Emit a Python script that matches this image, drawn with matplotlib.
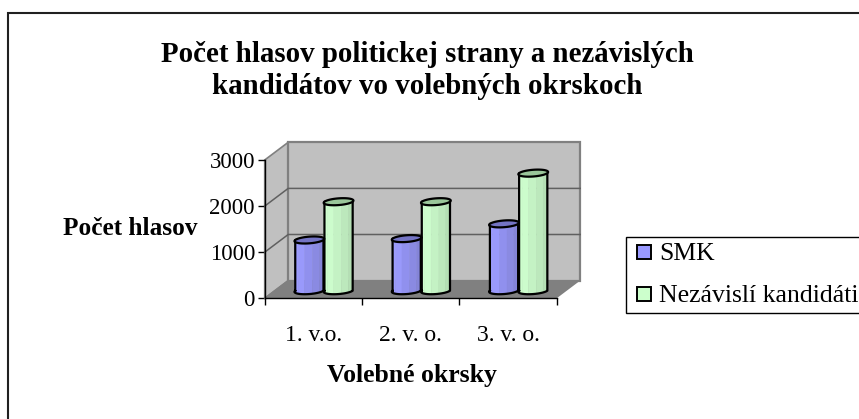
import numpy as np
import matplotlib
matplotlib.use("Agg")
import matplotlib.pyplot as plt
from matplotlib.patches import Polygon, Rectangle

plt.rcParams['font.family'] = ['Liberation Serif', 'DejaVu Serif']

categories = ["1. v.o.", "2. v. o.", "3. v. o."]
series_names = ["SMK", "Nezávislí kandidáti"]
smk = [1100, 1130, 1450]
nezavisli = [1930, 1930, 2550]
y_ticks = [0, 1000, 2000, 3000]

W, H = 859, 419
blue_strips = ["#9090ee", "#9c9cff", "#9999fb", "#9090ee", "#8a8ae2", "#8484d8"]
green_strips = ["#c4f6c4", "#ceffce", "#ccfccc", "#c4f2c4", "#bce8bc", "#b4dfb4"]
blue_top = "#7474c4"
green_top = "#9ac69a"

# depth of the oblique box, in data units (23.5 px right, 17.7 px up)
DX = 23.5 / (292.0 / 3)
DY = 17.7 / (138.3 / 3000)

fig = plt.figure(figsize=(W / 100, H / 100), dpi=100, facecolor="white")
# chart frame, only its left and top edges fall inside the picture
fig.add_artist(Rectangle((8 / W, -10 / H), (W + 10) / W, (H + 10 - 13) / H, transform=fig.transFigure,
                         fill=False, ec="#202020", lw=1.5))

ax = fig.add_axes([264.7 / W, 1 - 298.3 / H, 292.0 / W, 138.3 / H])
ax.set_xlim(0, 3)
ax.set_ylim(0, 3000)
ax.patch.set_visible(False)
for s in ["top", "right"]:
    ax.spines[s].set_visible(False)
for s in ["left", "bottom"]:
    ax.spines[s].set_linewidth(1.0)
    ax.spines[s].set_zorder(6)

# floor and walls
ax.add_patch(Polygon([(0, 0), (3, 0), (3 + DX, DY), (DX, DY)], fc="#808080", ec="none", clip_on=False, zorder=1))
ax.add_patch(Polygon([(0, 0), (DX, DY), (DX, 3000 + DY), (0, 3000)], fc="#c0c0c0", ec="#808080", lw=1.2,
                     clip_on=False, zorder=1))
ax.add_patch(Polygon([(DX, DY), (3 + DX, DY), (3 + DX, 3000 + DY), (DX, 3000 + DY)], fc="#c0c0c0", ec="#808080",
                     lw=1.6, clip_on=False, zorder=1))
for v in y_ticks[1:3]:
    ax.plot([0, DX, 3 + DX], [v, v + DY, v + DY], color="#606060", lw=1.1, clip_on=False, zorder=2)
ax.plot([0, DX], [0, DY], color="#808080", lw=1.0, clip_on=False, zorder=2)


def cylinder(xc, v, strips, top):
    # x half width and depth radius of the round base, base centre sits inside the floor
    r = 0.145
    dr = 0.2
    d0 = 0.43
    t = np.linspace(0, 2 * np.pi, 60)
    ex = r * np.cos(t) + dr * DX * np.sin(t)
    ey = dr * DY * np.sin(t)
    cx = xc + d0 * DX
    cy = d0 * DY
    # side, cut in strips for the shading
    front = np.linspace(np.pi, 2 * np.pi, len(strips) + 1)
    for i, c in enumerate(strips):
        tt = np.linspace(front[i], front[i + 1], 8)
        sx = cx + r * np.cos(tt) + dr * DX * np.sin(tt)
        sy = dr * DY * np.sin(tt)
        pts = list(zip(sx, cy + sy)) + list(zip(sx[::-1], cy + v + sy[::-1]))
        ax.add_patch(Polygon(pts, fc=c, ec=c, lw=0.3, clip_on=False, zorder=4))
    # outline of the side
    tt = np.linspace(np.pi, 2 * np.pi, 40)
    sx = cx + r * np.cos(tt) + dr * DX * np.sin(tt)
    sy = dr * DY * np.sin(tt)
    ox = np.r_[sx, sx[-1], sx[0], sx[0]]
    oy = np.r_[cy + sy, cy + v + sy[-1], cy + v + sy[0], cy + sy[0]]
    ax.plot(ox, oy, color="black", lw=1.6, clip_on=False, zorder=5)
    ax.add_patch(Polygon(list(zip(cx + ex, cy + v + ey)), fc=top, ec="black", lw=1.6, clip_on=False, zorder=5))


for i in range(len(categories)):
    cylinder(i + 0.5 - 0.145, smk[i], blue_strips, blue_top)
    cylinder(i + 0.5 + 0.155, nezavisli[i], green_strips, green_top)

ax.set_yticks(y_ticks)
ax.set_xticks([0, 1, 2, 3])
ax.set_xticklabels([])
ax.set_xticks([0.5, 1.5, 2.5], minor=True)
ax.set_xticklabels(categories, minor=True, fontsize=17)
ax.tick_params(axis="x", which="minor", length=0, pad=19)
ax.tick_params(axis="x", which="major", length=5, width=1.0)
ax.tick_params(axis="y", length=5, width=1.0, labelsize=16.5, pad=2)

fig.text(427 / W, 1 - 54 / H, "Počet hlasov politickej strany a nezávislých", ha="center", va="center",
         fontsize=20.8, fontweight="bold")
fig.text(427 / W, 1 - 87 / H, "kandidátov vo volebných okrskoch", ha="center", va="center",
         fontsize=20.8, fontweight="bold")
fig.text(130 / W, 1 - 228 / H, "Počet hlasov", ha="center", va="center", fontsize=18.2, fontweight="bold")
fig.text(412 / W, 1 - 375 / H, "Volebné okrsky", ha="center", va="center", fontsize=18.5, fontweight="bold")

# legend box runs off the right edge
fig.add_artist(Rectangle((626 / W, 1 - 312.5 / H), 240 / W, 75.5 / H, transform=fig.transFigure,
                         fc="white", ec="black", lw=1.0))
for k, (name, c, yy) in enumerate(zip(series_names, ["#9999ff", "#ccffcc"], [252, 294])):
    fig.add_artist(Rectangle((636.5 / W, 1 - (yy + 7) / H), 14 / W, 14 / H, transform=fig.transFigure,
                             fc=c, ec="black", lw=1.4))
    fig.text(659 / W, 1 - (yy + 7.5) / H, name, va="baseline", fontsize=18.5)

fig.savefig("out.png", dpi=100)
